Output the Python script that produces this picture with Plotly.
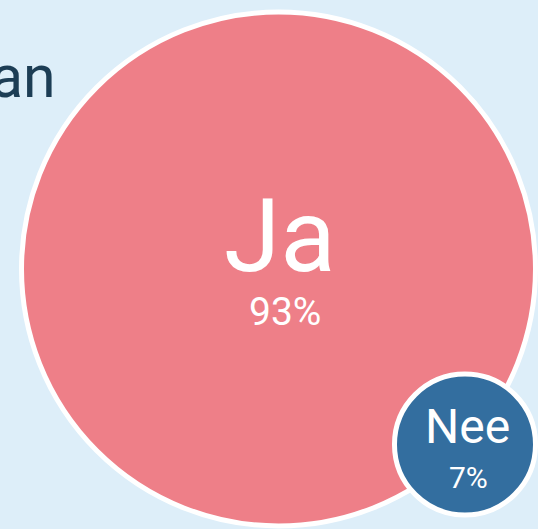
import plotly.graph_objects as go

# Data
labels = ["Ja", "Nee"]
values = [93, 7]
percent_labels = ["93%", "7%"]
colors = ["#ee7f88", "#336e9f"]
title_text = "an"

# Layout (pixel-like coordinate space)
W, H = 538, 529
centers_x = [278.5, 465]
centers_y = [269, 444.5]
big_radius_px = 257.0
sizeref = max(values) / (2 * big_radius_px ** 2)

fig = go.Figure()
fig.add_trace(go.Scatter(
    x=centers_x, y=centers_y, mode="markers",
    marker=dict(size=values, sizemode="area", sizeref=sizeref,
                color=colors, opacity=1,
                line=dict(color="white", width=5)),
    cliponaxis=False, hoverinfo="skip", showlegend=False,
))

font = "Roboto, Arial, sans-serif"
label_sizes = [102, 48]
pct_sizes = [39, 30]
label_dy = [-33, -18]
pct_dy = [43, 33]
label_dx = [1, 2]
pct_dx = [6, 3]
anns = []
for i, lab in enumerate(labels):
    anns.append(dict(x=centers_x[i] + label_dx[i], y=centers_y[i] + label_dy[i], text=lab,
                     showarrow=False, xanchor="center", yanchor="middle",
                     font=dict(family=font, size=label_sizes[i], color="white")))
    anns.append(dict(x=centers_x[i] + pct_dx[i], y=centers_y[i] + pct_dy[i], text=percent_labels[i],
                     showarrow=False, xanchor="center", yanchor="middle",
                     font=dict(family=font, size=pct_sizes[i], color="white")))
anns.append(dict(x=58, y=76, text=title_text, showarrow=False, xanchor="right", yanchor="middle",
                 font=dict(family=font, size=59, color="#1c3d55")))

fig.update_layout(
    width=W, height=H, margin=dict(l=0, r=0, t=0, b=0),
    paper_bgcolor="#ddeef9", plot_bgcolor="#ddeef9",
    xaxis=dict(range=[0, W], visible=False, fixedrange=True),
    yaxis=dict(range=[H, 0], visible=False, fixedrange=True),
    annotations=anns,
)
fig.write_html("out.html")
